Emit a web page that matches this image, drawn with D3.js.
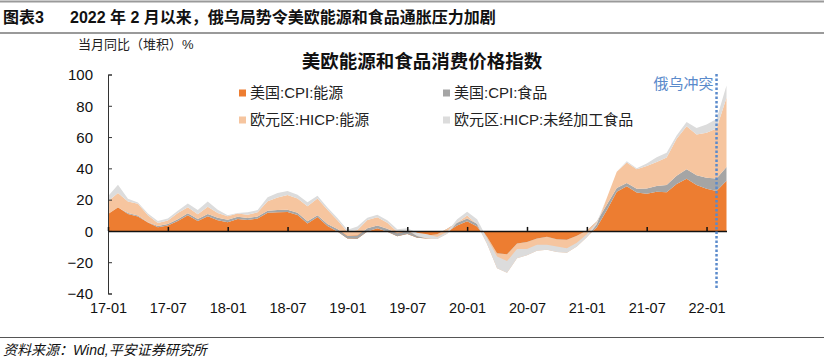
<!DOCTYPE html>
<html>
<head>
<meta charset="utf-8">
<script src="https://cdn.jsdelivr.net/npm/d3@7"></script>
<style>
  body { margin: 0; background: #fff; }
  svg text { font-family: "Liberation Sans", Arial, "Noto Sans CJK SC", sans-serif; }
</style>
</head>
<body>
<div id="chart"></div>
<script>
// 数据：2017-01 ~ 2022-03，月度同比（%）
const seriesNames = ["美国:CPI:能源", "美国:CPI:食品", "欧元区:HICP:能源", "欧元区:HICP:未经加工食品"];
const seriesColors = ["#ED7D31", "#A5A5A5", "#F6C59F", "#DCDCDC"];

const usEnergy = [
  10.8, 15.2, 10.9, 9.3, 5.4, 2.3, 3.4, 6.4, 10.1, 6.4, 9.4, 6.9,
  5.5, 7.7, 7.0, 7.9, 11.7, 12.0, 12.1, 10.2, 4.8, 8.9, 3.1, -0.3,
  -4.8, -5.0, -0.4, 1.7, -0.6, -3.4, -2.0, -4.4, -4.8, -4.2, -0.6, 3.4,
  6.2, 2.8, -5.7, -17.7, -18.9, -12.6, -11.2, -9.0, -7.7, -9.2, -9.4, -7.0,
  -3.6, 2.4, 13.2, 25.1, 28.5, 24.5, 23.8, 25.0, 24.8, 30.0, 33.3, 29.3,
  27.0, 25.6, 32.0
];
const usFood = [
  0.0, -0.2, 0.5, 0.5, 0.2, 0.9, 1.1, 1.1, 1.2, 1.3, 1.4, 1.6,
  1.7, 1.3, 1.3, 1.4, 1.2, 1.4, 1.4, 1.4, 1.4, 1.2, 1.4, 1.6,
  1.6, 2.0, 2.1, 1.8, 2.0, 1.9, 1.8, 1.7, 1.8, 2.1, 2.0, 1.8,
  1.8, 1.8, 1.9, 3.5, 4.0, 4.5, 4.1, 4.1, 3.9, 3.9, 3.7, 3.9,
  3.8, 3.6, 3.5, 2.4, 2.2, 2.4, 3.4, 3.7, 4.6, 5.3, 6.1, 6.3,
  7.0, 7.9, 8.8
];
const euEnergy = [
  8.1, 9.3, 7.4, 7.6, 4.5, 1.9, 2.2, 4.0, 3.9, 3.0, 4.7, 2.9,
  2.2, 2.1, 2.0, 2.6, 6.1, 8.0, 9.5, 9.2, 9.5, 10.7, 9.1, 5.5,
  2.7, 3.6, 5.3, 5.3, 3.8, 0.9, 0.5, -0.6, -1.8, -3.1, -3.2, 0.2,
  1.9, -0.3, -4.5, -9.7, -11.9, -9.3, -8.4, -7.8, -8.2, -8.2, -8.3, -6.9,
  -4.2, -1.7, 4.3, 10.4, 13.1, 12.6, 14.3, 15.4, 17.6, 23.7, 27.5, 26.0,
  28.8, 32.0, 44.4
];
const euFood = [
  3.3, 5.2, 1.8, 0.8, 1.0, 1.3, 1.3, 1.4, 2.4, 2.7, 3.3, 2.1,
  0.7, 0.4, 1.6, 1.4, 2.5, 2.9, 2.5, 2.4, 2.6, 1.7, 1.4, 1.4,
  1.3, 2.3, 1.4, 1.6, 1.7, 1.7, 1.4, 2.1, 2.7, 1.3, 1.3, 2.0,
  2.3, 3.2, 3.5, 7.6, 7.5, 5.8, 4.0, 3.9, 3.1, 3.6, 2.9, 2.4,
  1.9, 1.3, 0.1, -0.1, 0.7, 0.6, 1.6, 3.0, 2.9, 2.0, 2.7, 4.2,
  5.2, 6.1, 7.8
];

const tickLabels = ["17-01", "17-07", "18-01", "18-07", "19-01", "19-07", "20-01", "20-07", "21-01", "21-07", "22-01"];
const yTicks = [-40, -20, 0, 20, 40, 60, 80, 100];
const eventIndex = 61; // 2022-02
const eventLabel = "俄乌冲突";

const W = 824, H = 363;
const svg = d3.select("#chart").append("svg").attr("width", W).attr("height", H);

// 页眉
svg.append("line").attr("x1", 0).attr("x2", W).attr("y1", 1.5).attr("y2", 1.5)
  .attr("stroke", "#9a9a9a").attr("stroke-width", 2);
svg.append("line").attr("x1", 0).attr("x2", W).attr("y1", 33).attr("y2", 33)
  .attr("stroke", "#9a9a9a").attr("stroke-width", 2);
svg.append("text").attr("x", 3).attr("y", 23).attr("font-size", 16).attr("font-weight", "bold")
  .attr("fill", "#111").text("图表3");
svg.append("text").attr("x", 70).attr("y", 23).attr("font-size", 16).attr("font-weight", "bold")
  .attr("fill", "#111").text("2022 年 2 月以来，俄乌局势令美欧能源和食品通胀压力加剧");

// 页脚
svg.append("line").attr("x1", 0).attr("x2", W).attr("y1", 337.5).attr("y2", 337.5)
  .attr("stroke", "#555").attr("stroke-width", 1);
svg.append("text").attr("x", 3).attr("y", 355).attr("font-size", 14).attr("font-style", "italic")
  .attr("fill", "#111").text("资料来源：Wind,平安证券研究所");

// 标题
svg.append("text").attr("x", 78).attr("y", 49).attr("font-size", 13).attr("fill", "#222")
  .text("当月同比（堆积）%");
svg.append("text").attr("x", 422).attr("y", 68).attr("text-anchor", "middle")
  .attr("font-size", 18.5).attr("font-weight", "bold").attr("fill", "#111")
  .text("美欧能源和食品消费价格指数");

const x = d3.scaleLinear().domain([0, usEnergy.length - 1]).range([108, 726.5]);
const y = d3.scaleLinear().domain([-40, 100]).range([293.5, 74.5]);

const table = usEnergy.map((v, i) => ({ i, s0: v, s1: usFood[i], s2: euEnergy[i], s3: euFood[i] }));
const stack = d3.stack().keys(["s0", "s1", "s2", "s3"]).offset(d3.stackOffsetNone);
const layers = stack(table);

const area = d3.area()
  .x(d => x(d.data.i))
  .y0(d => y(d[0]))
  .y1(d => y(d[1]));

svg.append("g").selectAll("path")
  .data(layers)
  .join("path")
  .attr("d", area)
  .attr("fill", (d, k) => seriesColors[k]);

// Y 轴
const yAxis = d3.axisLeft(y).tickValues(yTicks).tickSize(-4).tickPadding(15);
const gy = svg.append("g").attr("transform", "translate(108,0)").call(yAxis);
gy.selectAll("text").attr("font-size", 15).attr("fill", "#111").attr("dy", "0.35em");
gy.selectAll("line, path").attr("stroke", "#333");

// X 轴（零线上的刻度）
const tickIdx = tickLabels.map((t, k) => k * 6);
const xAxis = d3.axisTop(x).tickValues(tickIdx).tickSize(4).tickSizeOuter(0).tickFormat("");
const gx = svg.append("g").attr("transform", `translate(0,${y(0)})`).call(xAxis);
gx.selectAll("line, path").attr("stroke", "#111").attr("stroke-width", 1.5);

// X 轴标签（底部）
const xLab = d3.axisBottom(x).tickValues(tickIdx).tickSize(0).tickPadding(0)
  .tickFormat((d, k) => tickLabels[k]);
const gl = svg.append("g").attr("transform", "translate(0,303)").call(xLab);
gl.select(".domain").remove();
gl.selectAll("text").attr("font-size", 14.5).attr("fill", "#111");

// 事件标记
svg.append("line")
  .attr("x1", x(eventIndex)).attr("x2", x(eventIndex))
  .attr("y1", 74).attr("y2", 288)
  .attr("stroke", "#5A8ACB").attr("stroke-width", 2.5).attr("stroke-dasharray", "2.5,2");
svg.append("text").attr("x", x(eventIndex) - 3).attr("y", 89).attr("text-anchor", "end")
  .attr("font-size", 15).attr("fill", "#5A8ACB").text(eventLabel);

// 图例
const legendPos = [[239, 93], [443, 93], [239, 120], [443, 120]];
const lg = svg.append("g").selectAll("g")
  .data(seriesNames)
  .join("g")
  .attr("transform", (d, k) => `translate(${legendPos[k][0]},${legendPos[k][1]})`);
lg.append("rect").attr("x", 0).attr("y", -3.5).attr("width", 7).attr("height", 7)
  .attr("fill", (d, k) => seriesColors[k]);
lg.append("text").attr("x", 11).attr("y", 0).attr("dy", "0.36em")
  .attr("font-size", 15).attr("fill", "#222").text(d => d);
</script>
</body>
</html>
